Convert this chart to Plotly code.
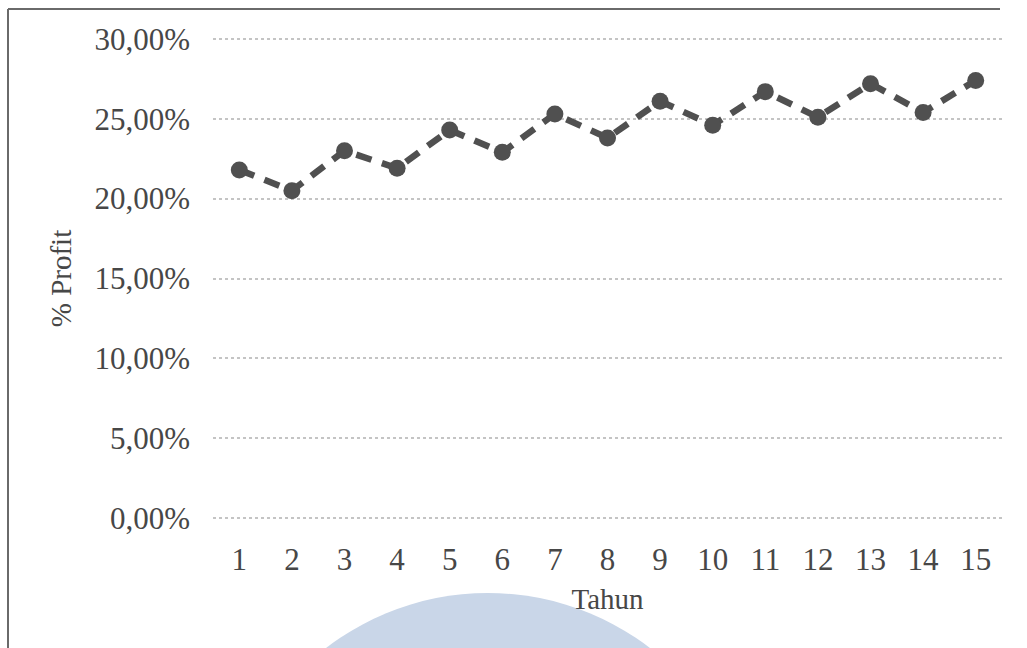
import plotly.graph_objects as go

# Yearly profit percentage
tahun = list(range(1, 16))
profit_pct = [21.8, 20.5, 23.0, 21.9, 24.3, 22.9, 25.3, 23.8, 26.1, 24.6, 26.7, 25.1, 27.2, 25.4, 27.4]
y_ticks = [0, 5, 10, 15, 20, 25, 30]
y_tick_text = ["0,00%", "5,00%", "10,00%", "15,00%", "20,00%", "25,00%", "30,00%"]

W, H = 1027, 648
L, R, T, B = 213, 25, 37, 128
pw, ph = W - L - R, H - T - B
Y_LO, Y_HI = -0.12, 30.12

def px_x(x):
    return (x - L) / pw

def px_y(y):
    return (H - B - y) / ph

fig = go.Figure()
fig.add_trace(go.Scatter(
    x=tahun, y=profit_pct, mode="lines+markers",
    line=dict(color="#505050", width=6.5, dash="16px,11px"),
    marker=dict(color="#505050", size=17),
    showlegend=False,
))

serif = "Liberation Serif, Times New Roman, serif"
shapes = [
    # pale blue disc at the bottom
    dict(type="circle", xref="paper", yref="paper", layer="below",
         x0=px_x(222), x1=px_x(754), y0=px_y(1125), y1=px_y(593),
         fillcolor="#c9d6e8", line=dict(width=0)),
    # frame edges
    dict(type="line", xref="paper", yref="paper",
         x0=px_x(8), x1=px_x(8), y0=px_y(9), y1=px_y(660),
         line=dict(color="#6a6a6a", width=2)),
    dict(type="line", xref="paper", yref="paper",
         x0=px_x(8), x1=px_x(1000), y0=px_y(9), y1=px_y(9),
         line=dict(color="#6a6a6a", width=2)),
]

fig.update_layout(
    width=W, height=H,
    margin=dict(l=L, r=R, t=T, b=B),
    paper_bgcolor="white", plot_bgcolor="white",
    font=dict(family=serif, size=31, color="#474747"),
    shapes=shapes,
    xaxis=dict(
        range=[0.5, 15.5], tickmode="array", tickvals=tahun,
        ticktext=[str(t) for t in tahun],
        showgrid=False, zeroline=False, showline=False,
        ticklabelstandoff=18,
        tickfont=dict(size=31),
        title=dict(text="Tahun", font=dict(size=29), standoff=12),
    ),
    yaxis=dict(
        range=[Y_LO, Y_HI], tickmode="array", tickvals=y_ticks,
        ticktext=y_tick_text,
        showgrid=True, gridcolor="#c4c4c4", gridwidth=1.5, griddash="dot",
        zeroline=False, showline=False,
        ticklabelstandoff=22,
        tickfont=dict(size=31),
        title=dict(text="% Profit", font=dict(size=29), standoff=14),
    ),
)

fig.write_html("out.html")
